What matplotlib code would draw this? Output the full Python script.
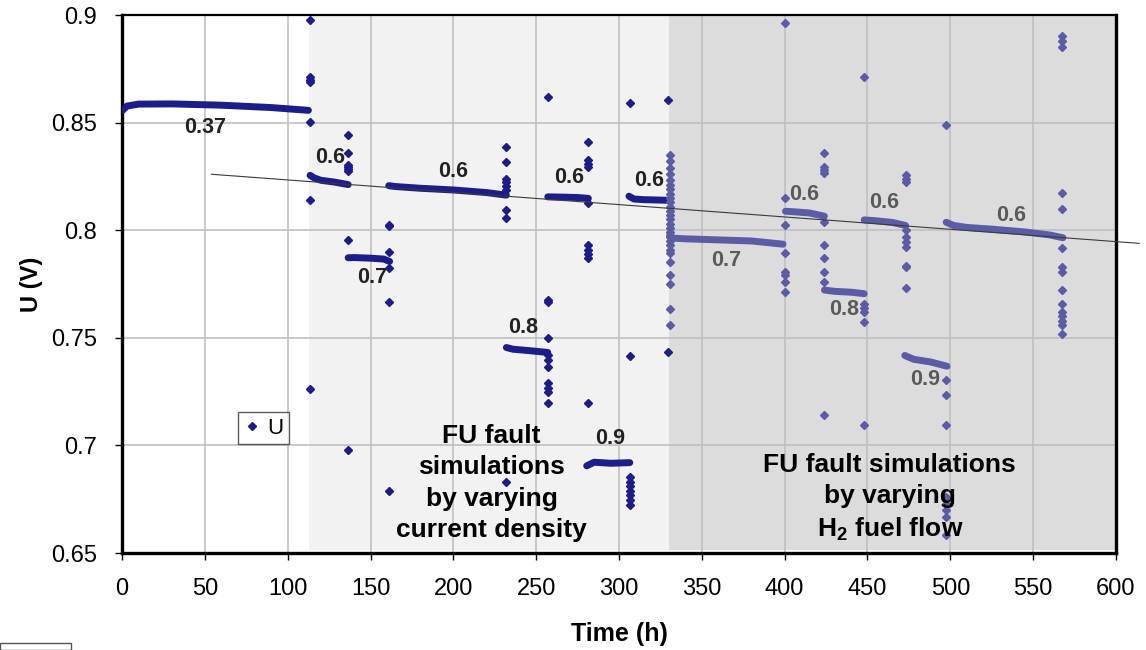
import numpy as np
import matplotlib
matplotlib.use("Agg")
from matplotlib import pyplot as plt
from matplotlib.patches import Rectangle
from matplotlib.lines import Line2D

plt.rcParams['font.family'] = ['Liberation Sans', 'DejaVu Sans']
plt.rcParams['mathtext.fontset'] = 'custom'
plt.rcParams['mathtext.rm'] = 'Liberation Sans'
plt.rcParams['mathtext.bf'] = 'Liberation Sans:bold'

# plateaus: (time h, voltage V)
# part 1: varying current density
plat1_t = [[0, 3, 10, 30, 60, 90, 112.5],
           [113.5, 116, 120, 128, 136.5],
           [136.5, 140, 150, 158, 161.5],
           [161, 165, 180, 200, 220, 232],
           [232, 236, 245, 257],
           [257, 265, 275, 281.5],
           [280.5, 285, 295, 306.5],
           [306, 309, 315, 329.5]]
plat1_u = [[0.8555, 0.8577, 0.8586, 0.8587, 0.8581, 0.8570, 0.8557],
           [0.8255, 0.8243, 0.8232, 0.8224, 0.8212],
           [0.7872, 0.7873, 0.7870, 0.7866, 0.7855],
           [0.8207, 0.8203, 0.8195, 0.8187, 0.8175, 0.8163],
           [0.7455, 0.7447, 0.7441, 0.7432],
           [0.8155, 0.8154, 0.8152, 0.8148],
           [0.6905, 0.6922, 0.6917, 0.6920],
           [0.8158, 0.8145, 0.8142, 0.8139]]
# part 2: varying H2 fuel flow
plat2_t = [[330.5, 333, 340, 360, 380, 399],
           [400.5, 405, 415, 424],
           [424, 430, 440, 448],
           [448, 455, 465, 473],
           [472.5, 478, 488, 498],
           [497.5, 502, 510, 525, 545, 560, 568]]
plat2_u = [[0.7975, 0.7963, 0.7960, 0.7955, 0.7950, 0.7935],
           [0.8088, 0.8086, 0.8080, 0.8065],
           [0.7722, 0.7716, 0.7712, 0.7705],
           [0.8048, 0.8044, 0.8036, 0.8022],
           [0.7418, 0.7400, 0.7388, 0.7368],
           [0.8037, 0.8022, 0.8013, 0.8005, 0.7992, 0.7978, 0.7965]]

# single transient points at the switches
out1_t = [113.5] * 7 + [136.6] * 8 + [161.2] * 6 + [231.8] * 9 + [257] * 11 \
    + [281.5] * 10 + [306.8] * 9 + [329.5] * 2
out1_u = [0.8977, 0.8712, 0.8700, 0.8688, 0.8503, 0.8140, 0.7262,
          0.8442, 0.8357, 0.8305, 0.8295, 0.8285, 0.8275, 0.7955, 0.6979,
          0.8025, 0.8020, 0.7900, 0.7824, 0.7666, 0.6788,
          0.8388, 0.8318, 0.8240, 0.8225, 0.8205, 0.8185, 0.8094, 0.8057, 0.6829,
          0.8619, 0.7675, 0.7665, 0.7499, 0.7420, 0.7395, 0.7364, 0.7290, 0.7265, 0.7248, 0.7197,
          0.8411, 0.8326, 0.8310, 0.8295, 0.8126, 0.7931, 0.7910, 0.7890, 0.7870, 0.7197,
          0.8590, 0.7415, 0.6853, 0.6830, 0.6810, 0.6790, 0.6770, 0.6745, 0.6723,
          0.8605, 0.7434]
out2_t = [330.8] * 27 + [400] * 8 + [424] * 10 + [448] * 6 + [473] * 10 \
    + [497.5] * 9 + [567.5] * 15
out2_u = [0.8349, 0.8320, 0.8288, 0.8260, 0.8233, 0.8210, 0.8190, 0.8170, 0.8150,
          0.8130, 0.8110, 0.8090, 0.8070, 0.8050, 0.8030, 0.8010, 0.7990, 0.7970,
          0.7950, 0.7930, 0.7910, 0.7894, 0.7854, 0.7792, 0.7750, 0.7632, 0.7560,
          0.8963, 0.8150, 0.8024, 0.7894, 0.7807, 0.7790, 0.7760, 0.7714,
          0.8357, 0.8295, 0.8280, 0.8266, 0.8040, 0.7931, 0.7871, 0.7807, 0.7761, 0.7141,
          0.8710, 0.7658, 0.7640, 0.7619, 0.7573, 0.7093,
          0.8257, 0.8240, 0.8225, 0.8000, 0.7970, 0.7945, 0.7923, 0.7836, 0.7828, 0.7731,
          0.8489, 0.7302, 0.7235, 0.7096, 0.6761, 0.6730, 0.6700, 0.6667, 0.6582,
          0.8902, 0.8880, 0.8853, 0.8174, 0.8099, 0.7916, 0.7828, 0.7807, 0.7723,
          0.7658, 0.7619, 0.7600, 0.7580, 0.7560, 0.7519]

trend_t = [54, 614]
trend_u = [0.8260, 0.7939]

# fuel utilisation labels
fu1_text = ['0.37', '0.6', '0.7', '0.6', '0.8', '0.6', '0.9', '0.6']
fu1_t = [50, 125.5, 151, 200, 242, 270, 294.5, 318]
fu1_u = [0.8475, 0.8336, 0.7778, 0.8275, 0.7546, 0.8243, 0.7034, 0.8233]
fu2_text = ['0.7', '0.6', '0.8', '0.6', '0.9', '0.6']
fu2_t = [365, 411.6, 436, 460, 484.6, 537]
fu2_u = [0.7857, 0.8164, 0.7630, 0.8131, 0.7304, 0.8070]

phase1 = [113, 330]
phase2 = [330, 600]

xticks = list(range(0, 601, 50))
yticks = [0.65, 0.7, 0.75, 0.8, 0.85, 0.9]
ytick_labels = ['0.65', '0.7', '0.75', '0.8', '0.85', '0.9']

dark = '#1c1c8a'
light = '#5c5ca6'

fig = plt.figure(figsize=(11.46, 6.5), dpi=100)
ax = fig.add_axes([0.1065, 0.1492, 0.8673, 0.8277])

ax.axvspan(phase1[0], phase1[1], ymin=0.006, ymax=1, color='#f2f2f2', zorder=0.2, lw=0)
ax.axvspan(phase2[0], phase2[1], ymin=0.006, ymax=1, color='#dcdcdc', zorder=0.2, lw=0)

for t, u in zip(plat1_t, plat1_u):
    ax.plot(t, u, color=dark, lw=5, solid_capstyle='round', zorder=3)
for t, u in zip(plat2_t, plat2_u):
    ax.plot(t, u, color=light, lw=5, solid_capstyle='round', zorder=3)
ax.plot(out1_t, out1_u, 'D', color=dark, ms=3.6, zorder=3)
ax.plot(out2_t, out2_u, 'D', color=light, ms=3.6, zorder=3)

ax.plot(trend_t, trend_u, color='#3a3a3a', lw=0.8, zorder=4, clip_on=False)

for s, t, u in zip(fu1_text, fu1_t, fu1_u):
    ax.text(t, u, s, fontsize=15.5, fontweight='bold', color='#222222',
            ha='center', va='center', zorder=5)
for s, t, u in zip(fu2_text, fu2_t, fu2_u):
    ax.text(t, u, s, fontsize=15.5, fontweight='bold', color='#5a5a5a',
            ha='center', va='center', zorder=5)

ax.text(223, 0.6825, 'FU fault\nsimulations\nby varying\ncurrent density',
        fontsize=19, fontweight='bold', ha='center', va='center',
        linespacing=1.38, zorder=5)
ax.text(463.5, 0.6755, 'FU fault simulations\nby varying\nH$_{\\mathbf{2}}$ fuel flow',
        fontsize=19, fontweight='bold', ha='center', va='center',
        linespacing=1.38, zorder=5)

ax.set_xlim(0, 600)
ax.set_ylim(0.65, 0.9)
ax.set_xticks(xticks)
ax.set_yticks(yticks)
ax.set_yticklabels(ytick_labels)
ax.tick_params(labelsize=17, length=5, width=1, direction='out', colors='black')
ax.tick_params(axis='x', pad=13)
ax.tick_params(axis='y', pad=13)
ax.grid(True, color='#c0c0c0', lw=1.2)
ax.set_axisbelow(True)
for side in ['left', 'bottom', 'right']:
    ax.spines[side].set_linewidth(2.4)
ax.spines['top'].set_linewidth(1.6)

ax.set_xlabel('Time (h)', fontsize=18, fontweight='bold', labelpad=16)
ax.set_ylabel('U (V)', fontsize=17, fontweight='bold', labelpad=6)

handle = Line2D([], [], marker='D', ls='', color=dark, ms=3.6)
leg = ax.legend([handle], ['U'], loc='center', bbox_to_anchor=(0.1424, 0.2323),
                fontsize=16, frameon=True, fancybox=False, handlelength=0.8,
                handletextpad=0.3, borderpad=0.25, borderaxespad=0)
leg.get_frame().set_edgecolor('#333333')
leg.get_frame().set_linewidth(1)

fig.add_artist(Rectangle((0, 0), 71 / 1146, 7 / 650, transform=fig.transFigure,
                         fill=False, edgecolor='#555555', lw=1))

fig.savefig('out.png', dpi=100)
